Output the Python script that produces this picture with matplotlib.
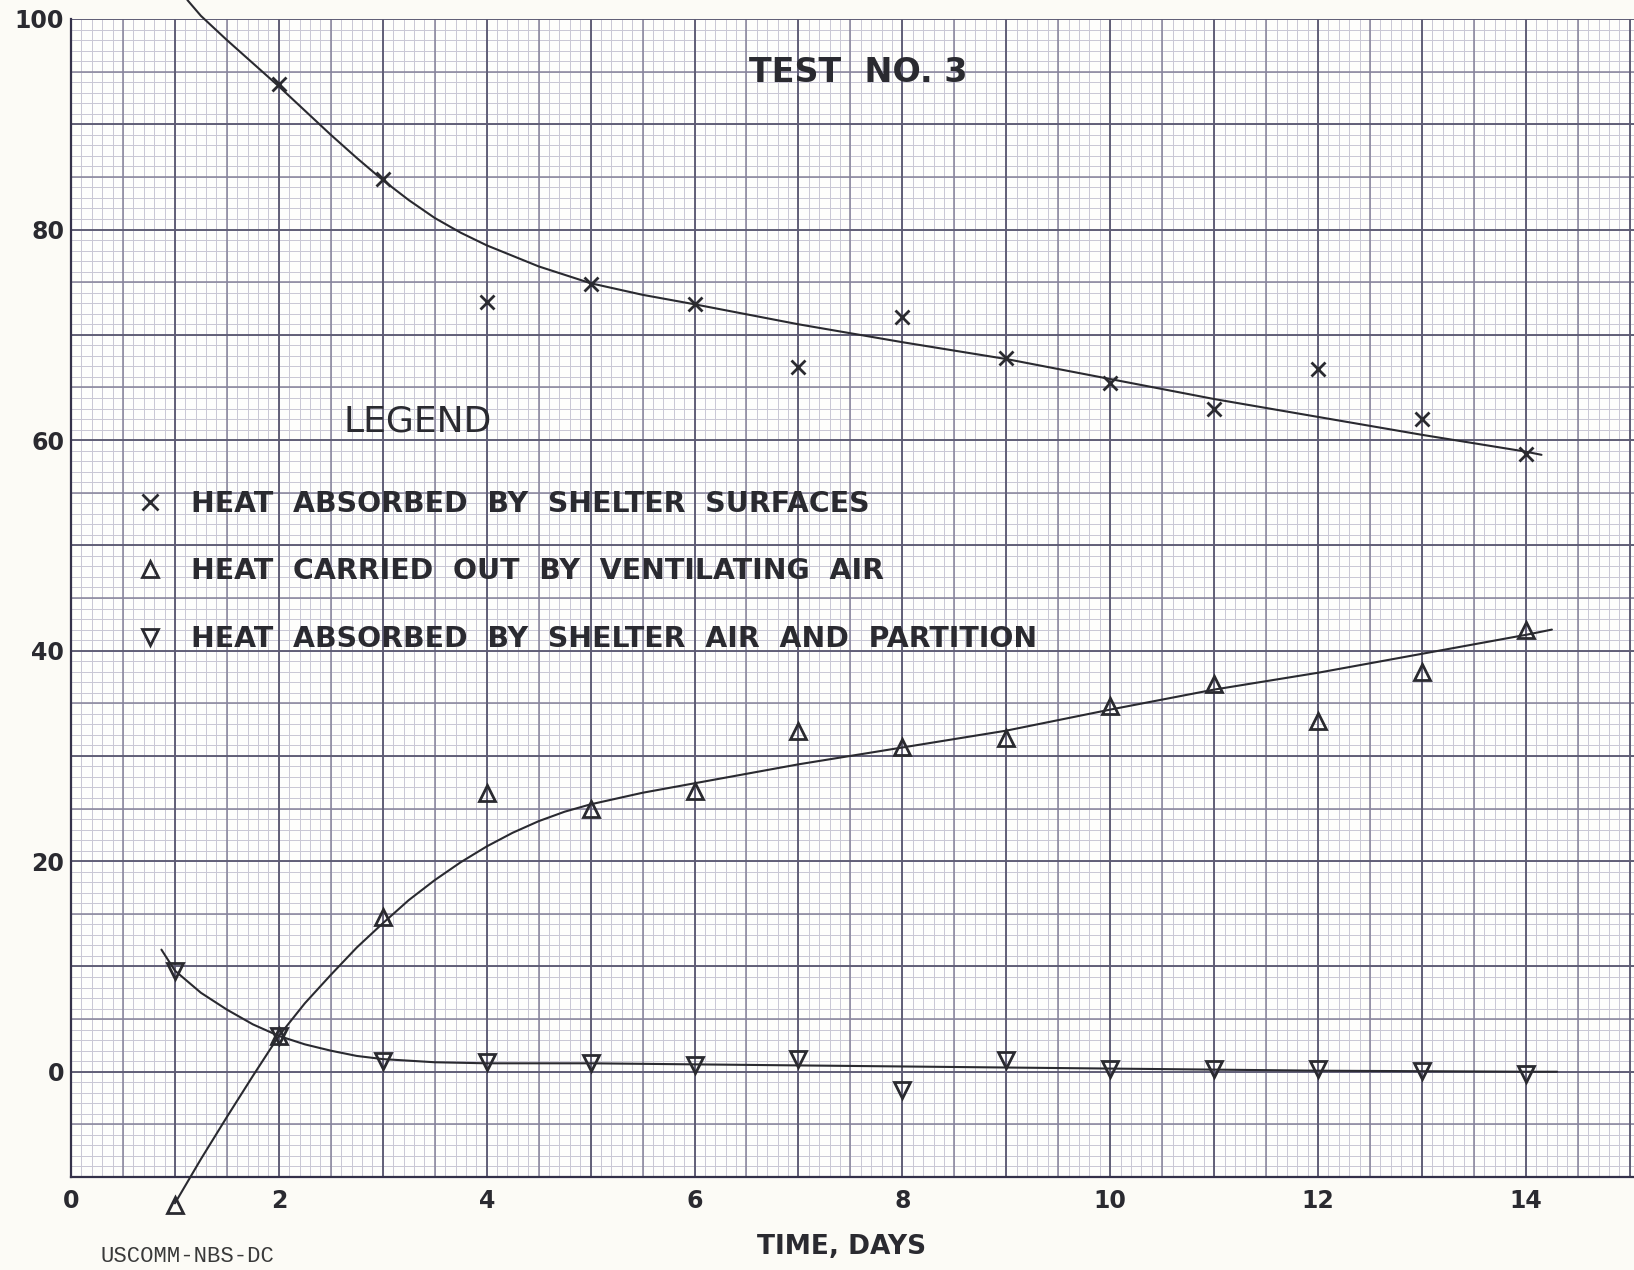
import numpy as np
import matplotlib
matplotlib.use("Agg")
import matplotlib.pyplot as plt

# ---- measured points -------------------------------------------------------
surf_days = [2, 3, 4, 5, 6, 7, 8, 9, 10, 11, 12, 13, 14]
surf_pct = [93.8, 84.8, 73.1, 74.8, 72.9, 66.9, 71.7, 67.8, 65.4, 63.0, 66.8, 62.0, 58.7]

vent_days = [1, 2, 3, 4, 5, 6, 7, 8, 9, 10, 11, 12, 13, 14]
vent_pct = [-12.7, 3.4, 14.7, 26.5, 25.0, 26.7, 32.4, 30.8, 31.7, 34.7, 36.8, 33.3, 38.0, 42.0]

part_days = [1, 2, 3, 4, 5, 6, 7, 8, 9, 10, 11, 12, 13, 14]
part_pct = [9.6, 3.4, 1.0, 0.9, 0.8, 0.6, 1.2, -1.7, 1.1, 0.3, 0.3, 0.3, 0.1, -0.2]

# ---- hand-faired curves through the points ---------------------------------
surf_curve_x = [1.12, 1.25, 1.5, 1.75, 2.0, 2.25, 2.5, 2.75, 3.0, 3.25, 3.5, 3.75,
                4.0, 4.5, 5.0, 5.5, 6.0, 7.0, 8.0, 9.0, 10.0, 11.0, 12.0, 13.0, 14.0, 14.15]
surf_curve_y = [101.8, 100.3, 98.0, 95.8, 93.6, 91.3, 89.0, 86.8, 84.7, 82.8, 81.1, 79.7,
                78.5, 76.5, 74.9, 73.8, 72.9, 71.0, 69.3, 67.7, 65.8, 63.9, 62.2, 60.5, 58.9, 58.6]

vent_curve_x = [1.0, 1.25, 1.5, 1.75, 2.0, 2.25, 2.5, 2.75, 3.0, 3.25, 3.5, 3.75, 4.0,
                4.25, 4.5, 4.75, 5.0, 5.5, 6.0, 7.0, 8.0, 9.0, 10.0, 11.0, 12.0, 13.0, 14.0, 14.25]
vent_curve_y = [-12.5, -8.3, -4.3, -0.4, 3.4, 6.5, 9.2, 11.8, 14.1, 16.3, 18.2, 19.9, 21.4,
                22.7, 23.8, 24.7, 25.4, 26.5, 27.4, 29.2, 30.8, 32.4, 34.4, 36.3, 37.9, 39.7, 41.5, 42.0]

part_curve_x = [0.87, 1.0, 1.25, 1.5, 1.75, 2.0, 2.25, 2.5, 2.75, 3.0, 3.5, 4.0, 5.0,
                6.0, 7.0, 8.0, 9.0, 10.0, 11.0, 12.0, 13.0, 14.0, 14.3]
part_curve_y = [11.6, 9.6, 7.5, 5.9, 4.5, 3.4, 2.6, 2.0, 1.5, 1.2, 0.9, 0.8, 0.8,
                0.7, 0.6, 0.5, 0.4, 0.3, 0.2, 0.1, 0.05, 0.0, 0.0]

x_ticks = [0, 2, 4, 6, 8, 10, 12, 14]
y_ticks = [0, 20, 40, 60, 80, 100]

labels = ["HEAT  ABSORBED  BY  SHELTER  SURFACES",
          "HEAT  CARRIED  OUT  BY  VENTILATING  AIR",
          "HEAT  ABSORBED  BY  SHELTER  AIR  AND  PARTITION"]

INK = "#2a2a30"
PAPER = "#fcfbf6"

fig = plt.figure(figsize=(16.34, 12.70), dpi=100, facecolor=PAPER)
ax = fig.add_axes([71 / 1634, (1270 - 1177) / 1270, 1 - 71 / 1634, (1177 - 19) / 1270])
ax.set_facecolor("#fefefc")
ax.set_xlim(0, 15.04)
ax.set_ylim(-10, 100)

# graph-paper ruling: fine, half and full divisions
x_fine = np.arange(0, 15.05, 0.1)
y_fine = np.arange(-10, 100.01, 1)
ax.vlines(x_fine, -10, 100, colors="#c9c7d4", lw=0.7, zorder=0.5)
ax.hlines(y_fine, 0, 15.04, colors="#c9c7d4", lw=0.7, zorder=0.5)
ax.vlines(np.arange(0.5, 15.05, 1.0), -10, 100, colors="#85829a", lw=1.1, zorder=0.6)
ax.hlines(np.arange(-5, 100.01, 10), 0, 15.04, colors="#85829a", lw=1.1, zorder=0.6)
ax.vlines(np.arange(0, 15.05, 1.0), -10, 100, colors="#5c5a72", lw=1.35, zorder=0.7)
ax.hlines(np.arange(-10, 100.01, 10), 0, 15.04, colors="#5c5a72", lw=1.35, zorder=0.7)

for s in ["top", "right"]:
    ax.spines[s].set_visible(False)
for s in ["left", "bottom"]:
    ax.spines[s].set_color("#34314a")
    ax.spines[s].set_linewidth(1.6)

# faired curves
for cx, cy in [(surf_curve_x, surf_curve_y), (vent_curve_x, vent_curve_y),
               (part_curve_x, part_curve_y)]:
    ax.plot(cx, cy, color=INK, lw=1.5, zorder=3, clip_on=False,
            solid_capstyle="round")

# plotted observations
h1, = ax.plot(surf_days, surf_pct, ls="none", marker="x", ms=10, mew=2.0,
              color=INK, zorder=4, clip_on=False, label=labels[0])
h2, = ax.plot(vent_days, vent_pct, ls="none", marker="^", ms=11, mew=2.0,
              mfc="none", mec=INK, zorder=4, clip_on=False, label=labels[1])
h3, = ax.plot(part_days, part_pct, ls="none", marker="v", ms=11, mew=2.0,
              mfc="none", mec=INK, zorder=4, clip_on=False, label=labels[2])

ax.set_xticks(x_ticks)
ax.set_xticklabels([str(v) for v in x_ticks])
ax.set_yticks(y_ticks)
ax.set_yticklabels([str(v) for v in y_ticks])
ax.tick_params(length=0, labelsize=17, colors=INK, pad=9)
ax.tick_params(axis="y", pad=5)
for t in ax.get_xticklabels() + ax.get_yticklabels():
    t.set_fontweight("bold")

ax.text(7.58, 94.9, "TEST  NO. 3", fontsize=24, fontweight="bold", color=INK,
        ha="center", va="center", zorder=5)
ax.text(2.62, 61.8, "LEGEND", fontsize=26, color=INK, ha="left", va="center",
        zorder=5)

leg = ax.legend(handles=[h1, h2, h3], loc="upper left",
                bbox_to_anchor=(0.62, 55.3), bbox_transform=ax.transData,
                frameon=False, fontsize=20.4, handlelength=1.0,
                handletextpad=0.97, labelspacing=1.4, borderpad=0,
                borderaxespad=0, markerscale=1.1)
for t in leg.get_texts():
    t.set_fontweight("bold")
    t.set_color(INK)
leg.set_zorder(5)

fig.text(842 / 1634, 1 - 1247 / 1270, "TIME, DAYS", fontsize=19, fontweight="bold",
         color=INK, ha="center", va="center")
fig.text(101 / 1634, 1 - 1256 / 1270, "USCOMM-NBS-DC", fontsize=16,
         family="Liberation Mono", color="#3a3a3a", ha="left", va="center")

fig.savefig("out.png", dpi=100, facecolor=PAPER)
